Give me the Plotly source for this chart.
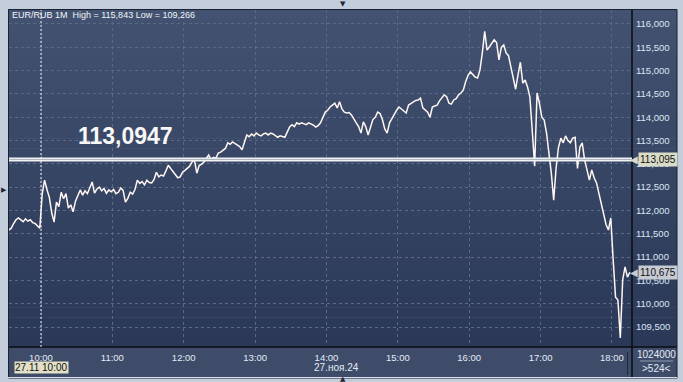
import plotly.graph_objects as go
import pandas as pd

# ---------------- data ----------------
SYMBOL = "EUR/RUB 1M"
DAY = "2024-11-27"
START = "2024-11-27 09:33"
STEP = "2min"
values = [
    111.58, 111.62, 111.72, 111.80, 111.84, 111.79, 111.76, 111.82, 111.77, 111.80,
    111.74, 111.72, 111.66, 111.62, 112.35, 112.65, 112.45, 112.28, 111.95, 111.75,
    112.18, 112.08, 112.39, 112.25, 112.36, 112.05, 112.12, 111.97, 112.20, 112.34,
    112.44, 112.33, 112.42, 112.36, 112.48, 112.61, 112.37, 112.46, 112.50, 112.42,
    112.47, 112.37, 112.44, 112.40, 112.45, 112.36, 112.39, 112.48, 112.43, 112.18,
    112.26, 112.39, 112.35, 112.45, 112.65, 112.58, 112.62, 112.55, 112.65, 112.60,
    112.59, 112.66, 112.82, 112.72, 112.76, 112.74, 112.85, 112.97, 112.90, 112.84,
    112.78, 112.70, 112.72, 112.82, 112.86, 112.91, 112.95, 113.04, 113.08, 112.80,
    112.97, 112.99, 113.04, 113.12, 113.19, 113.08, 113.14, 113.12, 113.23, 113.25,
    113.30, 113.33, 113.45, 113.42, 113.47, 113.44, 113.40, 113.37, 113.30, 113.45,
    113.62, 113.58, 113.64, 113.60, 113.66, 113.62, 113.60, 113.64, 113.66, 113.62,
    113.66, 113.64, 113.60, 113.57, 113.60, 113.58, 113.57, 113.68, 113.79, 113.84,
    113.80, 113.88, 113.85, 113.88, 113.86, 113.84, 113.88, 113.86, 113.83, 113.79,
    113.82, 113.88, 113.98, 114.11, 114.15, 114.22, 114.26, 114.30, 114.20, 114.33,
    114.18, 114.11, 114.09, 114.10, 114.05, 113.95, 113.88, 113.80, 113.66, 113.90,
    113.80, 113.62, 113.80, 113.95, 114.00, 114.11, 114.08, 113.95, 113.75, 113.66,
    113.88, 113.98, 114.05, 114.15, 114.22, 114.18, 114.12, 114.09, 114.26, 114.30,
    114.33, 114.36, 114.37, 114.41, 114.20, 114.15, 114.11, 114.00, 114.22, 114.24,
    114.26, 114.35, 114.43, 114.48, 114.44, 114.30, 114.28, 114.37, 114.40, 114.48,
    114.52, 114.58, 114.76, 114.90, 114.97, 114.91, 114.86, 114.84, 115.01, 115.38,
    115.843, 115.44, 115.52, 115.59, 115.66, 115.60, 115.23, 115.50, 115.55, 115.38,
    115.32, 115.08, 114.86, 114.60, 114.91, 115.18, 114.73, 114.80, 114.65, 114.43,
    113.70, 112.95, 114.52, 114.30, 114.00, 113.94, 113.66, 113.23, 112.80, 112.22,
    112.90, 113.35, 113.55, 113.45, 113.60, 113.50, 113.45, 113.55, 113.57, 112.90,
    113.36, 113.45, 113.08, 112.87, 112.65, 112.87, 112.70, 112.59, 112.37, 112.12,
    111.90, 111.70, 111.58, 111.84, 110.94, 110.14, 110.08, 109.266, 110.51, 110.79,
    110.57, 110.675,
]
HOUR_TICKS = ["10:00", "11:00", "12:00", "13:00", "14:00", "15:00", "16:00", "17:00", "18:00"]
Y_TICKS = [109.5, 110.0, 110.5, 111.0, 111.5, 112.0, 112.5, 113.0, 113.5, 114.0, 114.5, 115.0, 115.5, 116.0]
LEVEL = 113.0947
HIGH = 115.843
LOW = 109.266
LAST = 110.675
CURSOR = "10:00"
CURSOR_LABEL = "27.11 10:00"
DATE_LABEL = "27.ноя.24"
VOLUME_TEXT = "1024000"
BARS_TEXT = ">524<"
X_RANGE = ["2024-11-27 09:33:06", "2024-11-27 18:16:50"]
Y_RANGE = [109.071, 116.30]

# ---------------- figure ----------------
W, H = 683, 382
L, R, T, B = 9, 632, 10, 347  # plot area in px
PW, PH = R - L, B - T


def px(x):
    return (x - L) / PW


def py(y):
    return (B - y) / PH


def fmt(v, d):
    return f"{v:.{d}f}".replace(".", ",")


times = pd.date_range(START, periods=len(values), freq=STEP)

fig = go.Figure()
fig.add_trace(go.Scatter(
    x=times, y=values, mode="lines",
    line=dict(color="#fff6f2", width=1.5),
    hoverinfo="skip",
))

FONT = "Liberation Sans"
shapes = []
# gradient background for plot + right axis panel
top_c = (66, 82, 112)
bot_c = (43, 56, 88)
N = 34
y0p, y1p = 9, 347
for i in range(N):
    t = i / (N - 1)
    c = tuple(round(top_c[k] + (bot_c[k] - top_c[k]) * t) for k in range(3))
    ya = y0p + (y1p - y0p) * i / N
    yb = y0p + (y1p - y0p) * (i + 1) / N + 0.6
    shapes.append(dict(type="rect", xref="paper", yref="paper",
                       x0=px(8), x1=px(677), y0=py(yb), y1=py(ya),
                       fillcolor="rgb(%d,%d,%d)" % c, line=dict(width=0), layer="below"))
# bottom axis panel
shapes.append(dict(type="rect", xref="paper", yref="paper", x0=px(8), x1=px(677),
                   y0=py(378), y1=py(347), fillcolor="#3e4c6a", line=dict(width=0), layer="below"))
# separators
shapes.append(dict(type="line", xref="paper", yref="paper", x0=px(632), x1=px(632),
                   y0=py(378), y1=py(9), line=dict(color="#0a0d12", width=1.5)))
shapes.append(dict(type="line", xref="paper", yref="paper", x0=px(8), x1=px(677),
                   y0=py(347), y1=py(347), line=dict(color="#0a0d12", width=1.5)))
shapes.append(dict(type="line", xref="paper", yref="paper", x0=px(627.5), x1=px(627.5),
                   y0=py(375), y1=py(352), line=dict(color="#222a38", width=1)))
shapes.append(dict(type="line", xref="paper", yref="paper", x0=px(640), x1=px(673),
                   y0=py(361), y1=py(361), line=dict(color="#8e9ab0", width=1)))
# outer border
shapes.append(dict(type="rect", xref="paper", yref="paper", x0=px(8.5), x1=px(677),
                   y0=py(378), y1=py(9.5), line=dict(color="#1a2130", width=1)))
shapes.append(dict(type="line", xref="paper", yref="paper", x0=px(8), x1=px(677),
                   y0=py(377.5), y1=py(377.5), line=dict(color="#d8dee8", width=1)))
# level line
shapes.append(dict(type="line", xref="paper", yref="y", x0=0, x1=1, y0=LEVEL, y1=LEVEL,
                   line=dict(color="#f2f2f2", width=4)))
shapes.append(dict(type="line", xref="paper", yref="y", x0=0, x1=1, y0=LEVEL, y1=LEVEL,
                   line=dict(color="#a8b0bd", width=1)))
# cursor line
cursor_t = f"{DAY} {CURSOR}"
shapes.append(dict(type="line", xref="x", yref="paper", x0=cursor_t, x1=cursor_t, y0=0, y1=1,
                   line=dict(color="#f4f4f4", width=1, dash="2px,2px")))

ann = []
ann.append(dict(text=f"{SYMBOL}  High = {fmt(HIGH, 3)} Low = {fmt(LOW, 3)}",
                xref="paper", yref="paper", x=px(10), y=py(15), xanchor="left", yanchor="middle",
                showarrow=False, font=dict(family=FONT, size=9, color="#f2f5fa")))
ann.append(dict(text=f"<b>{fmt(LEVEL, 4)}</b>", xref="paper", yref="paper", x=px(125), y=py(135.5),
                xanchor="center", yanchor="middle", showarrow=False,
                font=dict(family=FONT, size=23, color="#f8f8f8")))
# price tags
ann.append(dict(text="◀", xref="paper", yref="y", x=px(634), y=LEVEL, xanchor="center",
                yanchor="middle", showarrow=False, font=dict(family="DejaVu Sans", size=10, color="#d9dcc6")))
ann.append(dict(text=fmt(LEVEL, 3), xref="paper", yref="y", x=px(658), y=LEVEL, xanchor="center",
                yanchor="middle", showarrow=False, bgcolor="#d9dcc6", borderpad=1,
                font=dict(family=FONT, size=10, color="#111111")))
ann.append(dict(text="◀", xref="paper", yref="y", x=px(634), y=LAST, xanchor="center",
                yanchor="middle", showarrow=False, font=dict(family="DejaVu Sans", size=10, color="#c6cad2")))
ann.append(dict(text=fmt(LAST, 3), xref="paper", yref="y", x=px(658), y=LAST, xanchor="center",
                yanchor="middle", showarrow=False, bgcolor="#c6cad2", borderpad=1,
                font=dict(family=FONT, size=10, color="#111111")))
# cursor time label
ann.append(dict(text=CURSOR_LABEL, xref="x", yref="paper", x=cursor_t, y=py(367.5), xanchor="center",
                yanchor="middle", showarrow=False, bgcolor="#e3e0c8", borderpad=0,
                font=dict(family=FONT, size=10, color="#111111")))
ann.append(dict(text=DATE_LABEL, xref="x", yref="paper", x=f"{DAY} 14:00", y=py(367.5), xanchor="center",
                yanchor="middle", showarrow=False, xshift=10,
                font=dict(family=FONT, size=10, color="#e4ebf5")))
ann.append(dict(text=VOLUME_TEXT, xref="paper", yref="paper", x=px(656.5), y=py(354.5), xanchor="center",
                yanchor="middle", showarrow=False, font=dict(family=FONT, size=10, color="#e4ebf5")))
ann.append(dict(text=BARS_TEXT, xref="paper", yref="paper", x=px(656.5), y=py(368.5), xanchor="center",
                yanchor="middle", showarrow=False, font=dict(family=FONT, size=10, color="#e4ebf5")))
# small navigator triangles
for t, x, y in [("▼", 343, 4), ("▶", 3.5, 190), ("▲", 343, 378.5)]:
    ann.append(dict(text=t, xref="paper", yref="paper", x=px(x), y=py(y), xanchor="center",
                    yanchor="middle", showarrow=False,
                    font=dict(family="DejaVu Sans", size=7, color="#1e2636")))

fig.update_layout(
    width=W, height=H,
    margin=dict(l=L, r=W - R, t=T, b=H - B, pad=0),
    paper_bgcolor="#c3cddb",
    plot_bgcolor="rgba(0,0,0,0)",
    showlegend=False,
    separators=",.",
    font=dict(family=FONT, size=10, color="#e4ebf5"),
    shapes=shapes,
    annotations=ann,
    xaxis=dict(
        range=X_RANGE, tickvals=[f"{DAY} {h}" for h in HOUR_TICKS], ticktext=HOUR_TICKS,
        showgrid=True, gridcolor="#5a6985", gridwidth=1, griddash="3px,3px",
        zeroline=False, showline=False, ticks="", ticklabelstandoff=3,
        tickfont=dict(family=FONT, size=9.5, color="#e4ebf5"), fixedrange=True,
    ),
    yaxis=dict(
        range=Y_RANGE, side="right", tickvals=Y_TICKS, tickformat=".3f",
        showgrid=True, gridcolor="#5a6985", gridwidth=1, griddash="3px,3px",
        zeroline=False, showline=False, ticks="", ticklabelstandoff=3,
        tickfont=dict(family=FONT, size=9.5, color="#dce6f4"), fixedrange=True,
    ),
)

fig.write_html("out.html")
